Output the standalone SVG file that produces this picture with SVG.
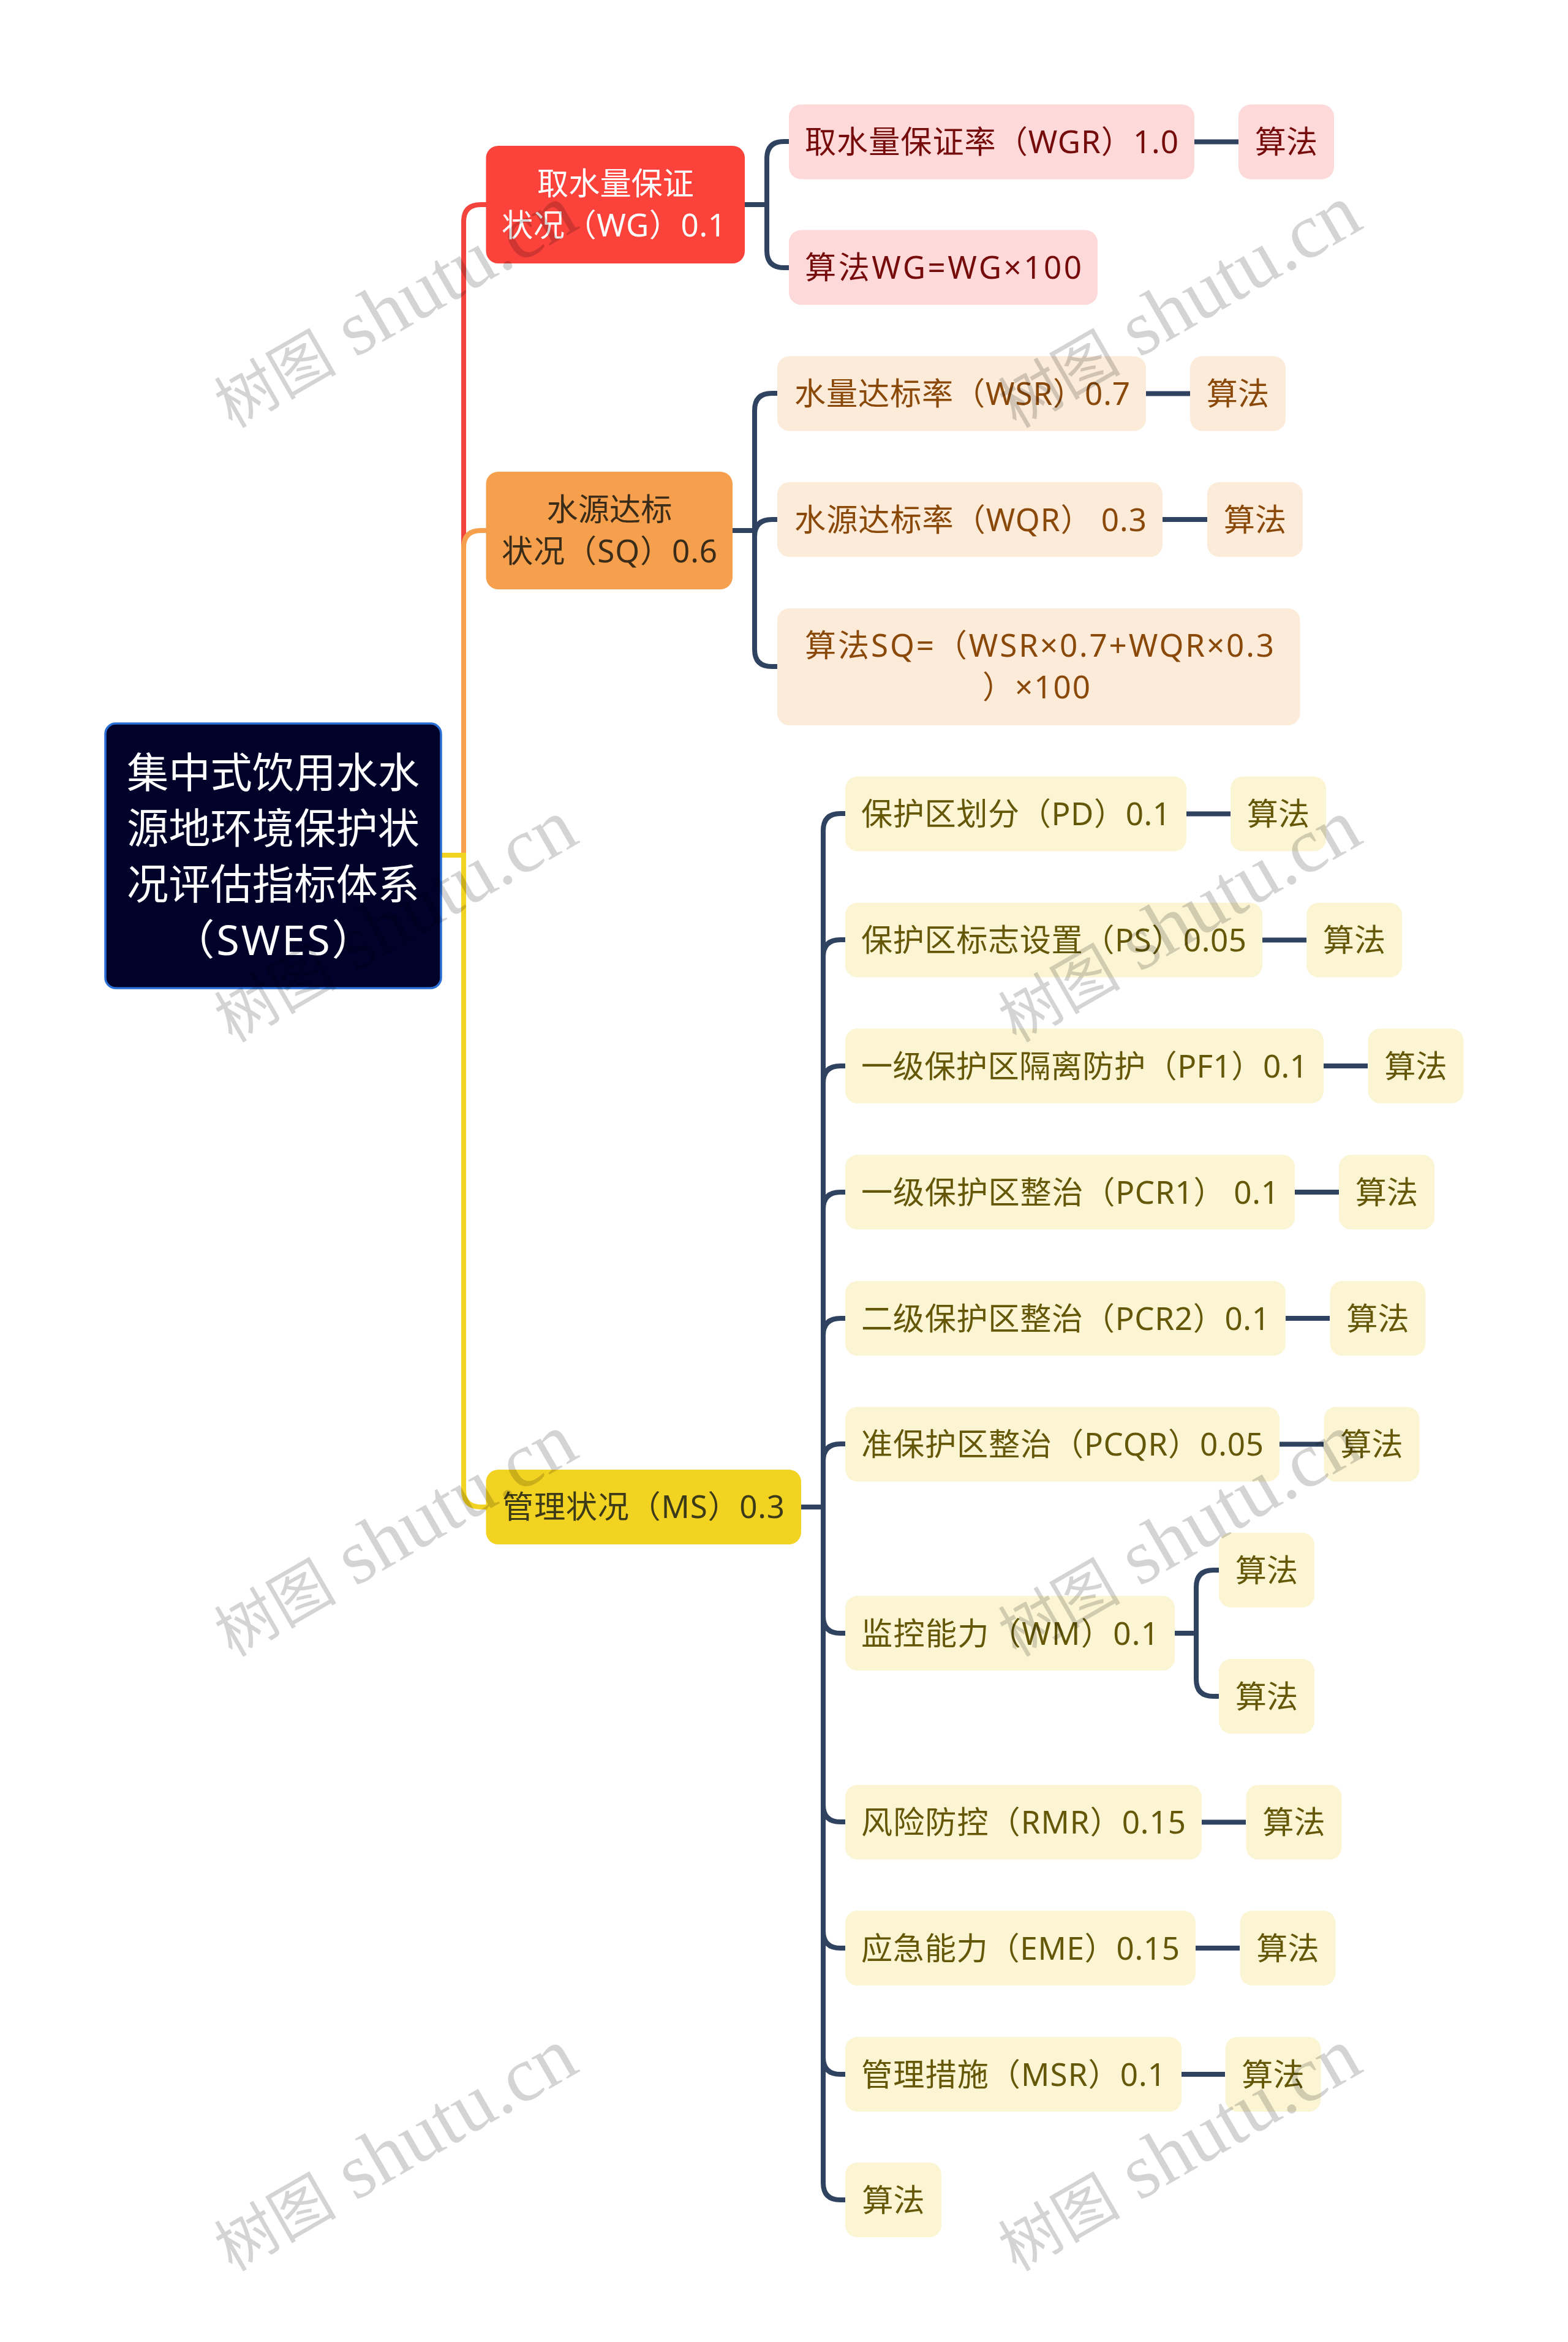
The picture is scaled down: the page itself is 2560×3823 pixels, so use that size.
<svg xmlns="http://www.w3.org/2000/svg" width="2560" height="3823" viewBox="0 0 2560 3823">
<defs>
<style>
text{font-family:"Noto Sans","Noto Sans CJK SC",sans-serif;font-size:51.2px}
.mid{text-anchor:middle}
.c{fill:none;stroke-width:8}
.d{stroke:#2f4361}
.big{font-size:68.3px;fill:#ffffff}
.r rect{fill:#fed9d9}.r text{fill:#760b0b}
.o rect{fill:#fcebd9}.o text{fill:#8a4809}
.y rect{fill:#fcf5d3}.y text{fill:#655708}
.wm text{font-family:"Liberation Serif","Noto Sans CJK SC",serif;font-size:127px;fill:#000;fill-opacity:.17}
.wm tspan{font-size:100px}
</style>
</defs>
<rect width="2560" height="3823" fill="#ffffff"/>
<g id="connectors">
<path class="c" stroke="#f2443c" d="M757,1396V362Q757,334 785,334H800"/>
<path class="c" stroke="#f6a04d" d="M757,1396V894Q757,866 785,866H800"/>
<path class="c" stroke="#f3d321" d="M721,1396H757V2432Q757,2460 785,2460H800"/>
<g class="c d">
<path d="M1216,334H1252M1252,334V259Q1252,231 1280,231H1290M1252,334V409Q1252,437 1280,437H1290"/>
<path d="M1950,231.500H2022"/>
<path d="M1196,866H1232M1232,866V670Q1232,642 1260,642H1271M1232,876Q1232,848 1260,848H1271M1232,866V1060Q1232,1088 1260,1088H1271"/>
<path d="M1871,642.500H1943M1898,848H1971"/>
<path d="M1308,2460H1344"/>
<path d="M1344,2460V1356Q1344,1328 1372,1328H1382M1344,2460V1562Q1344,1534 1372,1534H1382M1344,2460V1768Q1344,1740 1372,1740H1382M1344,2460V1974Q1344,1946 1372,1946H1382M1344,2460V2180Q1344,2152 1372,2152H1382M1344,2460V2385Q1344,2357 1372,2357H1382"/>
<path d="M1344,2460V2638Q1344,2666 1372,2666H1382M1344,2460V2946Q1344,2974 1372,2974H1382M1344,2460V3152Q1344,3180 1372,3180H1382M1344,2460V3358Q1344,3386 1372,3386H1382M1344,2460V3563Q1344,3591 1372,3591H1382"/>
<path d="M1937,1328.500H2009M2061,1534.500H2133M2161,1740H2233M2114,1946H2186M2099,2152H2171M2089,2357.500H2161M1962,2974.500H2034M1952,3180H2024M1929,3386H2000"/>
<path d="M1918,2666H1953M1953,2666V2591Q1953,2563 1981,2563H1991M1953,2666V2741Q1953,2769 1981,2769H1991"/>
</g>
</g>
<g id="root"><rect x="172" y="1181" width="548" height="432" rx="17" fill="#000229" stroke="#2a6fd6" stroke-width="3.500"/>
<text class="mid big" x="446" y="1286">集中式饮用水水</text><text class="mid big" x="446" y="1377">源地环境保护状</text><text class="mid big" x="446" y="1468">况评估指标体系</text><text class="mid big" x="446" y="1559" textLength="328">（SWES）</text></g>
<g id="wg"><rect x="793.500" y="238" width="422.500" height="192" rx="20" fill="#fb423b"/><text class="mid" x="1005" y="318" fill="#fff">取水量保证</text><text x="819" y="386" textLength="366" fill="#fff">状况（WG）0.1</text></g>
<g id="sq"><rect x="793.500" y="770" width="402.500" height="192" rx="20" fill="#f6a04d"/><text class="mid" x="995" y="850" fill="#3a2c18">水源达标</text><text x="819" y="918" textLength="352" fill="#3a2c18">状况（SQ）0.6</text></g>
<g id="ms"><rect x="793.500" y="2399" width="514.500" height="122" rx="20" fill="#f3d321"/><text x="820" y="2478" textLength="461" fill="#3d3a18">管理状况（MS）0.3</text></g>
<g class="r">
<g id="wgr"><rect x="1288" y="170.500" width="662" height="122" rx="20"/><text x="1314" y="250" textLength="610">取水量保证率（WGR）1.0</text></g>
<g id="wgr-a"><rect x="2022" y="170.500" width="156" height="122" rx="20"/><text class="mid" x="2100" y="250">算法</text></g>
<g id="wgf"><rect x="1288" y="375.500" width="504" height="122" rx="20"/><text x="1314" y="455" textLength="452">算法WG=WG×100</text></g>
</g>
<g class="o">
<g id="wsr"><rect x="1269" y="581.500" width="602" height="122" rx="20"/><text x="1297" y="661" textLength="548">水量达标率（WSR）0.7</text></g>
<g id="wsr-a"><rect x="1943" y="581.500" width="156" height="122" rx="20"/><text class="mid" x="2021" y="661">算法</text></g>
<g id="wqr"><rect x="1269" y="787" width="629" height="122" rx="20"/><text x="1297" y="866.500" textLength="575">水源达标率（WQR） 0.3</text></g>
<g id="wqr-a"><rect x="1971" y="787" width="156" height="122" rx="20"/><text class="mid" x="2049" y="866.500">算法</text></g>
<g id="sqf"><rect x="1269" y="993" width="853.500" height="191" rx="20"/><text x="1314" y="1072" textLength="766">算法SQ=（WSR×0.7+WQR×0.3</text><text class="mid" x="1692" y="1140" textLength="176">）×100</text></g>
</g>
<g class="y">
<g id="pd"><rect x="1380" y="1267.500" width="557" height="122" rx="20"/><text x="1406" y="1347" textLength="505">保护区划分（PD）0.1</text></g>
<g id="pd-a"><rect x="2009" y="1267.500" width="156" height="122" rx="20"/><text class="mid" x="2087" y="1347">算法</text></g>
<g id="ps"><rect x="1380" y="1473.500" width="681" height="122" rx="20"/><text x="1406" y="1553" textLength="629">保护区标志设置（PS）0.05</text></g>
<g id="ps-a"><rect x="2133" y="1473.500" width="156" height="122" rx="20"/><text class="mid" x="2211" y="1553">算法</text></g>
<g id="pf1"><rect x="1380" y="1679" width="781" height="122" rx="20"/><text x="1406" y="1758.500" textLength="729">一级保护区隔离防护（PF1）0.1</text></g>
<g id="pf1-a"><rect x="2233.500" y="1679" width="156" height="122" rx="20"/><text class="mid" x="2311.500" y="1758.500">算法</text></g>
<g id="pcr1"><rect x="1380" y="1885" width="734" height="122" rx="20"/><text x="1406" y="1964.500" textLength="682">一级保护区整治（PCR1） 0.1</text></g>
<g id="pcr1-a"><rect x="2186" y="1885" width="156" height="122" rx="20"/><text class="mid" x="2264" y="1964.500">算法</text></g>
<g id="pcr2"><rect x="1380" y="2091" width="719" height="122" rx="20"/><text x="1406" y="2170.500" textLength="667">二级保护区整治（PCR2）0.1</text></g>
<g id="pcr2-a"><rect x="2171.500" y="2091" width="156" height="122" rx="20"/><text class="mid" x="2249.500" y="2170.500">算法</text></g>
<g id="pcqr"><rect x="1380" y="2296.500" width="709" height="122" rx="20"/><text x="1406" y="2376" textLength="657">准保护区整治（PCQR）0.05</text></g>
<g id="pcqr-a"><rect x="2161.500" y="2296.500" width="156" height="122" rx="20"/><text class="mid" x="2239.500" y="2376">算法</text></g>
<g id="wm"><rect x="1380" y="2605" width="538" height="122" rx="20"/><text x="1406" y="2684.500" textLength="486">监控能力（WM）0.1</text></g>
<g id="wm-a1"><rect x="1990" y="2502" width="156" height="122" rx="20"/><text class="mid" x="2068" y="2581.500">算法</text></g>
<g id="wm-a2"><rect x="1990" y="2708" width="156" height="122" rx="20"/><text class="mid" x="2068" y="2787.500">算法</text></g>
<g id="rmr"><rect x="1380" y="2913.500" width="582" height="122" rx="20"/><text x="1406" y="2993" textLength="530">风险防控（RMR）0.15</text></g>
<g id="rmr-a"><rect x="2034.500" y="2913.500" width="156" height="122" rx="20"/><text class="mid" x="2112.500" y="2993">算法</text></g>
<g id="eme"><rect x="1380" y="3119" width="572" height="122" rx="20"/><text x="1406" y="3198.500" textLength="520">应急能力（EME）0.15</text></g>
<g id="eme-a"><rect x="2024.500" y="3119" width="156" height="122" rx="20"/><text class="mid" x="2102.500" y="3198.500">算法</text></g>
<g id="msr"><rect x="1380" y="3325" width="549" height="122" rx="20"/><text x="1406" y="3404.500" textLength="497">管理措施（MSR）0.1</text></g>
<g id="msr-a"><rect x="2000.500" y="3325" width="156" height="122" rx="20"/><text class="mid" x="2078.500" y="3404.500">算法</text></g>
<g id="alg"><rect x="1380" y="3530" width="157" height="122" rx="20"/><text class="mid" x="1458.500" y="3609.500">算法</text></g>
</g>
<g class="wm" id="watermarks">
<text transform="translate(379,700) rotate(-30)"><tspan>树图</tspan> shutu.cn</text>
<text transform="translate(1659,700) rotate(-30)"><tspan>树图</tspan> shutu.cn</text>
<text transform="translate(379,1703) rotate(-30)"><tspan>树图</tspan> shutu.cn</text>
<text transform="translate(1659,1703) rotate(-30)"><tspan>树图</tspan> shutu.cn</text>
<text transform="translate(379,2706) rotate(-30)"><tspan>树图</tspan> shutu.cn</text>
<text transform="translate(1659,2706) rotate(-30)"><tspan>树图</tspan> shutu.cn</text>
<text transform="translate(379,3709) rotate(-30)"><tspan>树图</tspan> shutu.cn</text>
<text transform="translate(1659,3709) rotate(-30)"><tspan>树图</tspan> shutu.cn</text>
</g>
</svg>
